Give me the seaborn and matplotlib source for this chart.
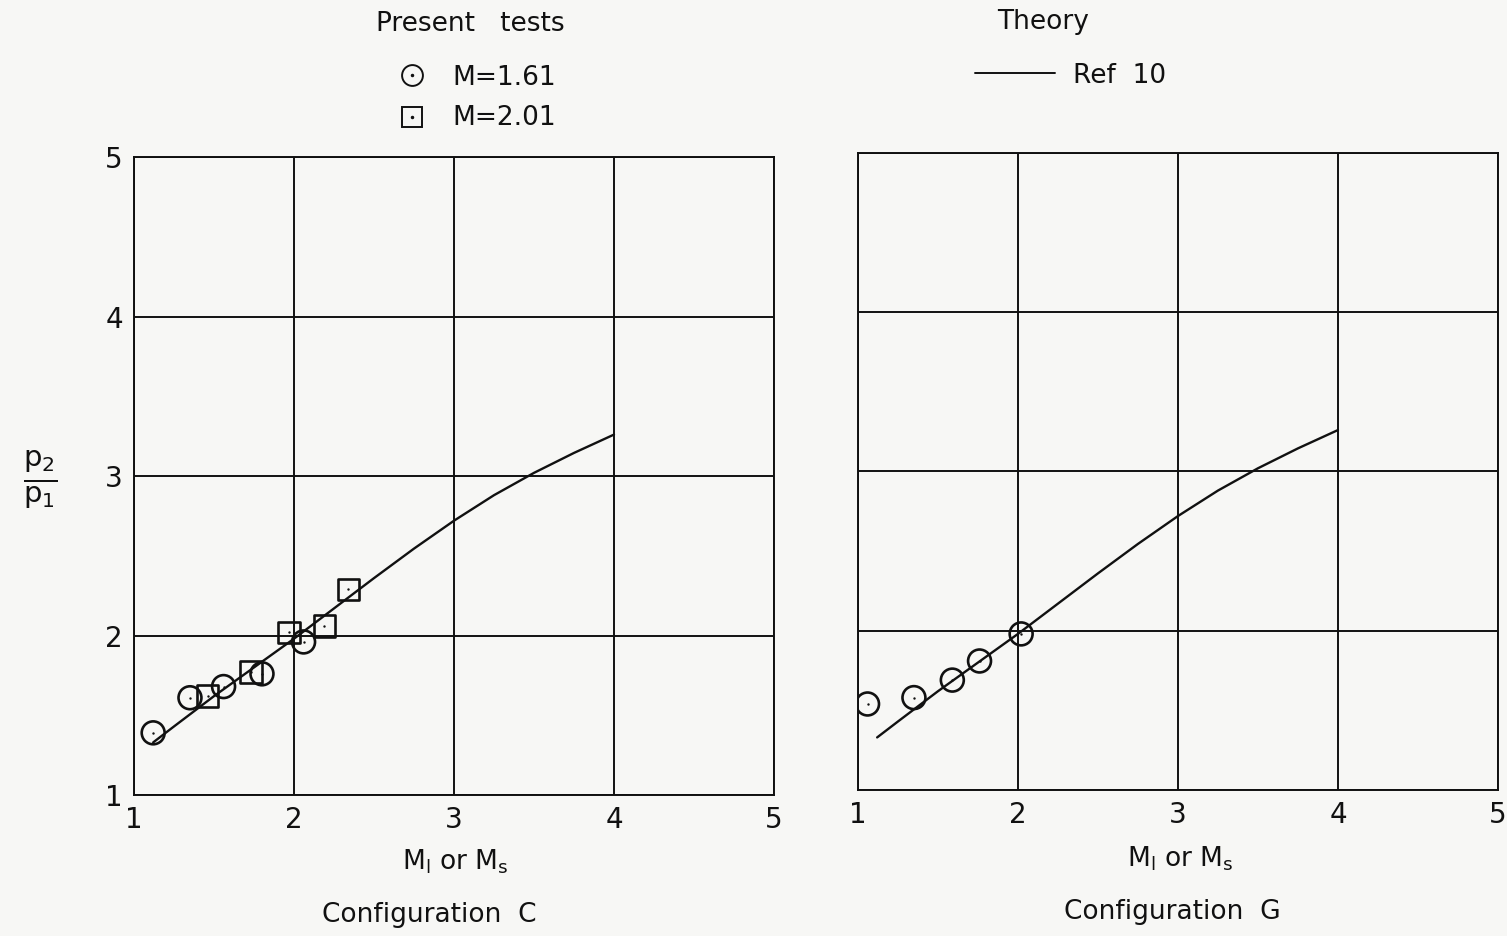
import matplotlib
matplotlib.use("Agg")
import matplotlib.pyplot as plt
import seaborn as sns
import pandas as pd
from matplotlib.lines import Line2D

sns.set_theme(style="white")
plt.rcParams["font.family"] = ["DejaVu Sans"]
plt.rcParams["mathtext.default"] = "regular"

# Theory curve (Ref 10), same in both configurations
theory_m = [1.12, 1.25, 1.5, 1.75, 2.0, 2.25, 2.5, 2.75, 3.0, 3.25, 3.5, 3.75, 4.0]
theory_p = [1.33, 1.43, 1.62, 1.80, 1.98, 2.17, 2.36, 2.545, 2.72, 2.88, 3.02, 3.145, 3.26]

# Configuration C, present tests
c_m161_x = [1.12, 1.35, 1.56, 1.80, 2.06]
c_m161_y = [1.39, 1.61, 1.68, 1.76, 1.96]
c_m201_x = [1.46, 1.73, 1.97, 2.19, 2.34]
c_m201_y = [1.62, 1.77, 2.02, 2.06, 2.29]

# Configuration G, present tests
g_m161_x = [1.06, 1.35, 1.59, 1.76, 2.02]
g_m161_y = [1.54, 1.58, 1.69, 1.81, 1.98]

ticks = [1, 2, 3, 4, 5]
bg = "#f7f7f5"
ink = "#111111"

fig = plt.figure(figsize=(15.07, 9.36), dpi=100, facecolor=bg)
ax_c = fig.add_axes([0.0889, 0.1506, 0.4247, 0.6816])
ax_g = fig.add_axes([0.5693, 0.1560, 0.4247, 0.6806])

theory_df = pd.DataFrame({"M": theory_m, "p": theory_p})


def draw_points(ax, xs, ys, marker, size):
    df = pd.DataFrame({"M": xs, "p": ys})
    sns.scatterplot(data=df, x="M", y="p", ax=ax, marker=marker, s=size ** 2,
                    facecolor="none", edgecolor=ink, linewidth=1.9, zorder=4)
    sns.scatterplot(data=df, x="M", y="p", ax=ax, marker="o", s=3,
                    color=ink, linewidth=0, zorder=5)


for ax in (ax_c, ax_g):
    ax.set_facecolor(bg)
    sns.lineplot(data=theory_df, x="M", y="p", ax=ax, color=ink, lw=1.7,
                 estimator=None, sort=False, zorder=3)

draw_points(ax_c, c_m161_x, c_m161_y, "o", 16.5)
draw_points(ax_c, c_m201_x, c_m201_y, "s", 15.5)
draw_points(ax_g, g_m161_x, g_m161_y, "o", 16.5)

for ax in (ax_c, ax_g):
    ax.set_xlim(1, 5)
    ax.set_ylim(1, 5)
    ax.set_xticks(ticks)
    ax.set_yticks(ticks)
    ax.grid(True, color=ink, lw=1.4)
    ax.set_axisbelow(True)
    for s in ax.spines.values():
        s.set_color(ink)
        s.set_linewidth(1.4)
    ax.tick_params(length=0, labelsize=20, colors=ink, pad=8)
    ax.set_xlabel("")
    ax.set_ylabel("")

ax_c.set_yticklabels([str(t) for t in ticks])
ax_g.set_yticklabels([])

# Axis labels and captions
fig.text(0.302, 0.079, r"M$_{l}$ or M$_{s}$", ha="center",
         va="center", fontsize=19, color=ink)
fig.text(0.285, 0.022, "Configuration  C", ha="center", va="center",
         fontsize=19, color=ink)
fig.text(0.783, 0.082, r"M$_{l}$ or M$_{s}$", ha="center",
         va="center", fontsize=19, color=ink)
fig.text(0.778, 0.026, "Configuration  G", ha="center", va="center",
         fontsize=19, color=ink)
fig.text(0.027, 0.487, r"$\frac{p_2}{p_1}$", ha="center", va="center",
         fontsize=30, color=ink)

# Legend block: present tests
fig.text(0.312, 0.974, "Present   tests", ha="center", va="center",
         fontsize=19, color=ink)
fig.add_artist(Line2D([0.2735], [0.920], marker="o", ms=15, mfc="none",
                      mec=ink, mew=1.4, transform=fig.transFigure))
fig.add_artist(Line2D([0.2735], [0.920], marker="o", ms=1.5, mfc=ink,
                      mec=ink, transform=fig.transFigure))
fig.add_artist(Line2D([0.2735], [0.875], marker="s", ms=14, mfc="none",
                      mec=ink, mew=1.4, transform=fig.transFigure))
fig.add_artist(Line2D([0.2735], [0.875], marker="o", ms=1.5, mfc=ink,
                      mec=ink, transform=fig.transFigure))
fig.text(0.300, 0.917, "M=1.61", ha="left", va="center", fontsize=19, color=ink)
fig.text(0.300, 0.874, "M=2.01", ha="left", va="center", fontsize=19, color=ink)

# Legend block: theory
fig.text(0.692, 0.976, "Theory", ha="center", va="center", fontsize=19, color=ink)
fig.add_artist(Line2D([0.647, 0.700], [0.922, 0.922], color=ink, lw=1.4,
                      transform=fig.transFigure))
fig.text(0.712, 0.919, "Ref  10", ha="left", va="center", fontsize=19, color=ink)

fig.savefig("out.png", dpi=100, facecolor=bg)
